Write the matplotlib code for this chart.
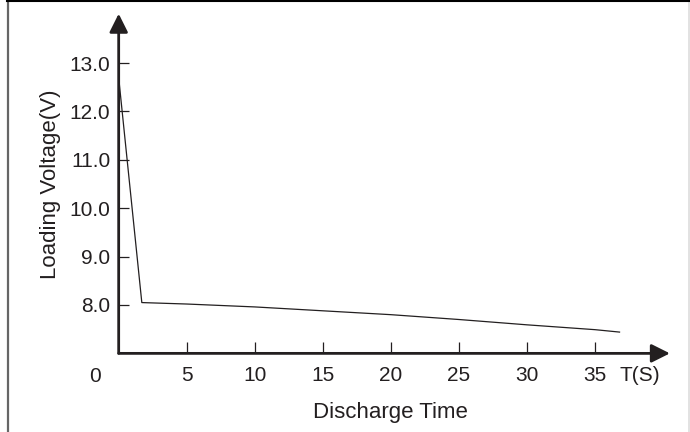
import matplotlib
matplotlib.use("Agg")
import matplotlib.pyplot as plt
from matplotlib.patches import Rectangle

plt.rcParams['font.family'] = ['Liberation Sans', 'DejaVu Sans']

DPI = 100
INK = '#231f20'

# discharge curve
time_s = [0, 1.7, 5, 10, 15, 20, 25, 30, 35, 36.8]
voltage = [12.7, 8.05, 8.02, 7.96, 7.88, 7.80, 7.70, 7.59, 7.49, 7.44]

x_ticks = [5, 10, 15, 20, 25, 30, 35]
y_ticks = [8.0, 9.0, 10.0, 11.0, 12.0, 13.0]
y_tick_labels = ['8.0', '9.0', '10.0', '11.0', '12.0', '13.0']

fig = plt.figure(figsize=(690/DPI, 432/DPI), dpi=DPI)
ax = fig.add_axes([0.172, 0.182, 0.789, 0.784])
ax.set_xlim(0, 40)
ax.set_ylim(7, 14)

for s in ax.spines.values():
    s.set_visible(False)

ax.plot(time_s, voltage, color=INK, lw=0.9)

# axes drawn as arrows
arrow = dict(arrowstyle='-|>', color=INK, lw=2.0, mutation_scale=28,
             shrinkA=0, shrinkB=0)
ax.annotate('', xy=(40.5, 7), xytext=(0, 7), xycoords='data',
            arrowprops=arrow, annotation_clip=False)
ax.annotate('', xy=(0, 14.02), xytext=(0, 7), xycoords='data',
            arrowprops=arrow, annotation_clip=False)

ax.set_xticks(x_ticks)
ax.set_yticks(y_ticks)
ax.set_yticklabels(y_tick_labels)
ax.tick_params(axis='x', direction='in', length=8, width=0.9, color=INK,
               labelcolor=INK, labelsize=15, pad=9)
ax.tick_params(axis='y', direction='in', length=7, width=0.9, color=INK,
               labelcolor=INK, labelsize=15, pad=6)

ax.annotate('0', xy=(0, 7), xytext=(-17, -10), textcoords='offset points',
            ha='center', va='top', fontsize=15, color=INK)
ax.annotate('T(S)', xy=(38.3, 7), xytext=(0, -9), textcoords='offset points',
            ha='center', va='top', fontsize=15, color=INK)

ax.set_xlabel('Discharge Time', fontsize=16, color=INK, labelpad=12)
ax.set_ylabel('Loading Voltage(V)', fontsize=16, color=INK, labelpad=6)

# picture frame
fig.lines.append(plt.Line2D([7.5/690, 7.5/690], [0, 1], transform=fig.transFigure,
                            color='#666666', lw=1.6))
fig.lines.append(plt.Line2D([688.5/690, 688.5/690], [0, 1], transform=fig.transFigure,
                            color='#dddddd', lw=1.2))
fig.lines.append(plt.Line2D([7/690, 689/690], [0.998, 0.998], transform=fig.transFigure,
                            color='black', lw=1.5))

fig.savefig('out.png', dpi=DPI)
